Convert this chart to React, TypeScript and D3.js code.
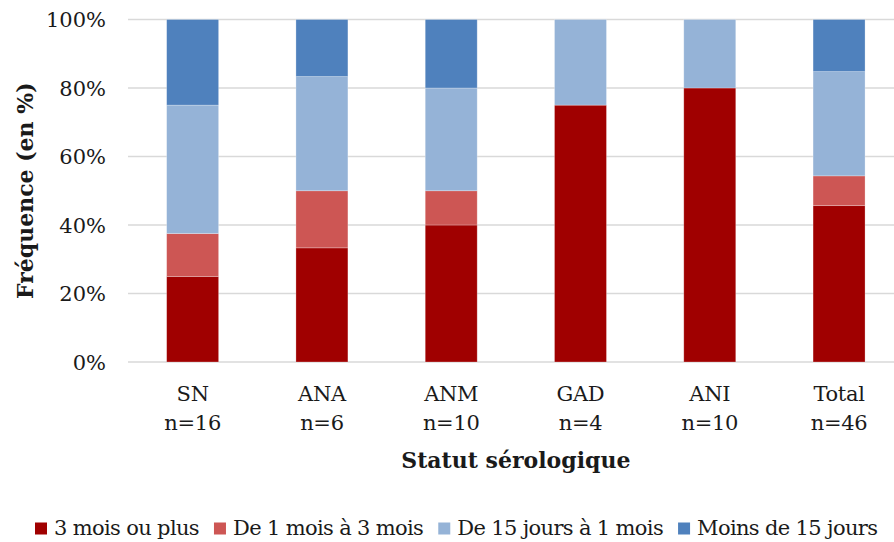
import React, { useEffect, useRef } from "react";
import * as d3 from "d3";

const categories = ["SN", "ANA", "ANM", "GAD", "ANI", "Total"];
const counts = ["n=16", "n=6", "n=10", "n=4", "n=10", "n=46"];
const seriesNames = ["3 mois ou plus", "De 1 mois à 3 mois", "De 15 jours à 1 mois", "Moins de 15 jours"];
const threeMonthsPlus = [25, 33.33, 40, 75, 80, 45.65];
const oneToThreeMonths = [12.5, 16.67, 10, 0, 0, 8.7];
const fifteenDaysToOneMonth = [37.5, 33.33, 30, 25, 20, 30.43];
const lessThanFifteenDays = [25, 16.67, 20, 0, 0, 15.22];
const yTicks = [0, 20, 40, 60, 80, 100];
const colors = ["#A00000", "#CD5654", "#95B3D7", "#4F81BD"];

const W = 894;
const H = 542;
const FONT = "'DejaVu Serif', serif";

export default function App() {
  const ref = useRef<SVGSVGElement>(null);

  useEffect(() => {
    document.body.style.margin = "0";
    const svg = d3.select(ref.current);
    svg.selectAll("*").remove();

    const x = d3.scaleBand<string>().domain(categories).range([128, 903.7]).paddingInner(0.598).paddingOuter(0.299);
    const y = d3.scaleLinear().domain([0, 100]).range([362, 19.5]);

    const series = [threeMonthsPlus, oneToThreeMonths, fifteenDaysToOneMonth, lessThanFifteenDays];
    const rows = categories.map((c, i) => {
      const r: any = { cat: c };
      seriesNames.forEach((s, j) => (r[s] = series[j][i]));
      return r;
    });
    const stacked = d3.stack<any>().keys(seriesNames)(rows);

    // gridlines
    svg
      .append("g")
      .selectAll("line")
      .data(yTicks)
      .join("line")
      .attr("x1", 128)
      .attr("x2", W)
      .attr("y1", (d) => y(d))
      .attr("y2", (d) => y(d))
      .attr("stroke", "#D9D9D9")
      .attr("stroke-width", 1.5);

    // tick labels
    svg
      .append("g")
      .selectAll("text")
      .data(yTicks)
      .join("text")
      .attr("x", 106)
      .attr("y", (d) => y(d) + 7.5)
      .attr("text-anchor", "end")
      .attr("font-family", FONT)
      .attr("font-size", 21)
      .attr("fill", "#1a1a1a")
      .text((d) => d + "%");

    // bars
    svg
      .append("g")
      .selectAll("g")
      .data(stacked)
      .join("g")
      .attr("fill", (_d, i) => colors[i])
      .selectAll("rect")
      .data((d) => d)
      .join("rect")
      .attr("x", (d: any) => x(d.data.cat)!)
      .attr("width", x.bandwidth())
      .attr("y", (d) => y(d[1]))
      .attr("height", (d) => Math.max(0, y(d[0]) - y(d[1])))
      .attr("stroke", "#ffffff")
      .attr("stroke-opacity", (d) => (d[1] - d[0] > 0 ? 0.35 : 0))
      .attr("stroke-width", 0.75);

    // category labels
    const cl = svg
      .append("g")
      .selectAll("text")
      .data(categories)
      .join("text")
      .attr("x", (d) => x(d)! + x.bandwidth() / 2)
      .attr("y", 400.5)
      .attr("text-anchor", "middle")
      .attr("font-family", FONT)
      .attr("font-size", 21)
      .attr("letter-spacing", -0.3)
      .attr("fill", "#1a1a1a");
    cl.append("tspan").attr("x", (d) => x(d)! + x.bandwidth() / 2).text((d) => d);
    cl.append("tspan")
      .attr("x", (d) => x(d)! + x.bandwidth() / 2)
      .attr("dy", 29)
      .text((_d, i) => counts[i]);

    // axis titles
    svg
      .append("text")
      .attr("x", (128 + 903.7) / 2)
      .attr("y", 468)
      .attr("text-anchor", "middle")
      .attr("font-family", FONT)
      .attr("font-weight", "bold")
      .attr("font-size", 22)
      .attr("fill", "#1a1a1a")
      .text("Statut sérologique");

    svg
      .append("text")
      .attr("transform", `translate(33, ${(362 + 19.5) / 2}) rotate(-90)`)
      .attr("text-anchor", "middle")
      .attr("font-family", FONT)
      .attr("font-weight", "bold")
      .attr("font-size", 22)
      .attr("fill", "#1a1a1a")
      .text("Fréquence (en %)");

    // legend
    const lg = svg.append("g");
    let cx = 35;
    seriesNames.forEach((name, i) => {
      lg.append("rect")
        .attr("x", cx)
        .attr("y", 522.5)
        .attr("width", 12)
        .attr("height", 12)
        .attr("fill", colors[i]);
      const t = lg
        .append("text")
        .attr("x", cx + 19)
        .attr("y", 535)
        .attr("font-family", FONT)
        .attr("font-size", 21)
        .attr("letter-spacing", -0.65)
        .attr("fill", "#1a1a1a")
        .text(name);
      const w = (t.node() as SVGTextElement).getComputedTextLength();
      cx = cx + 19 + w + 15;
    });
  }, []);

  return <svg ref={ref} width={W} height={H} style={{ display: "block", background: "#fff" }} />;
}
